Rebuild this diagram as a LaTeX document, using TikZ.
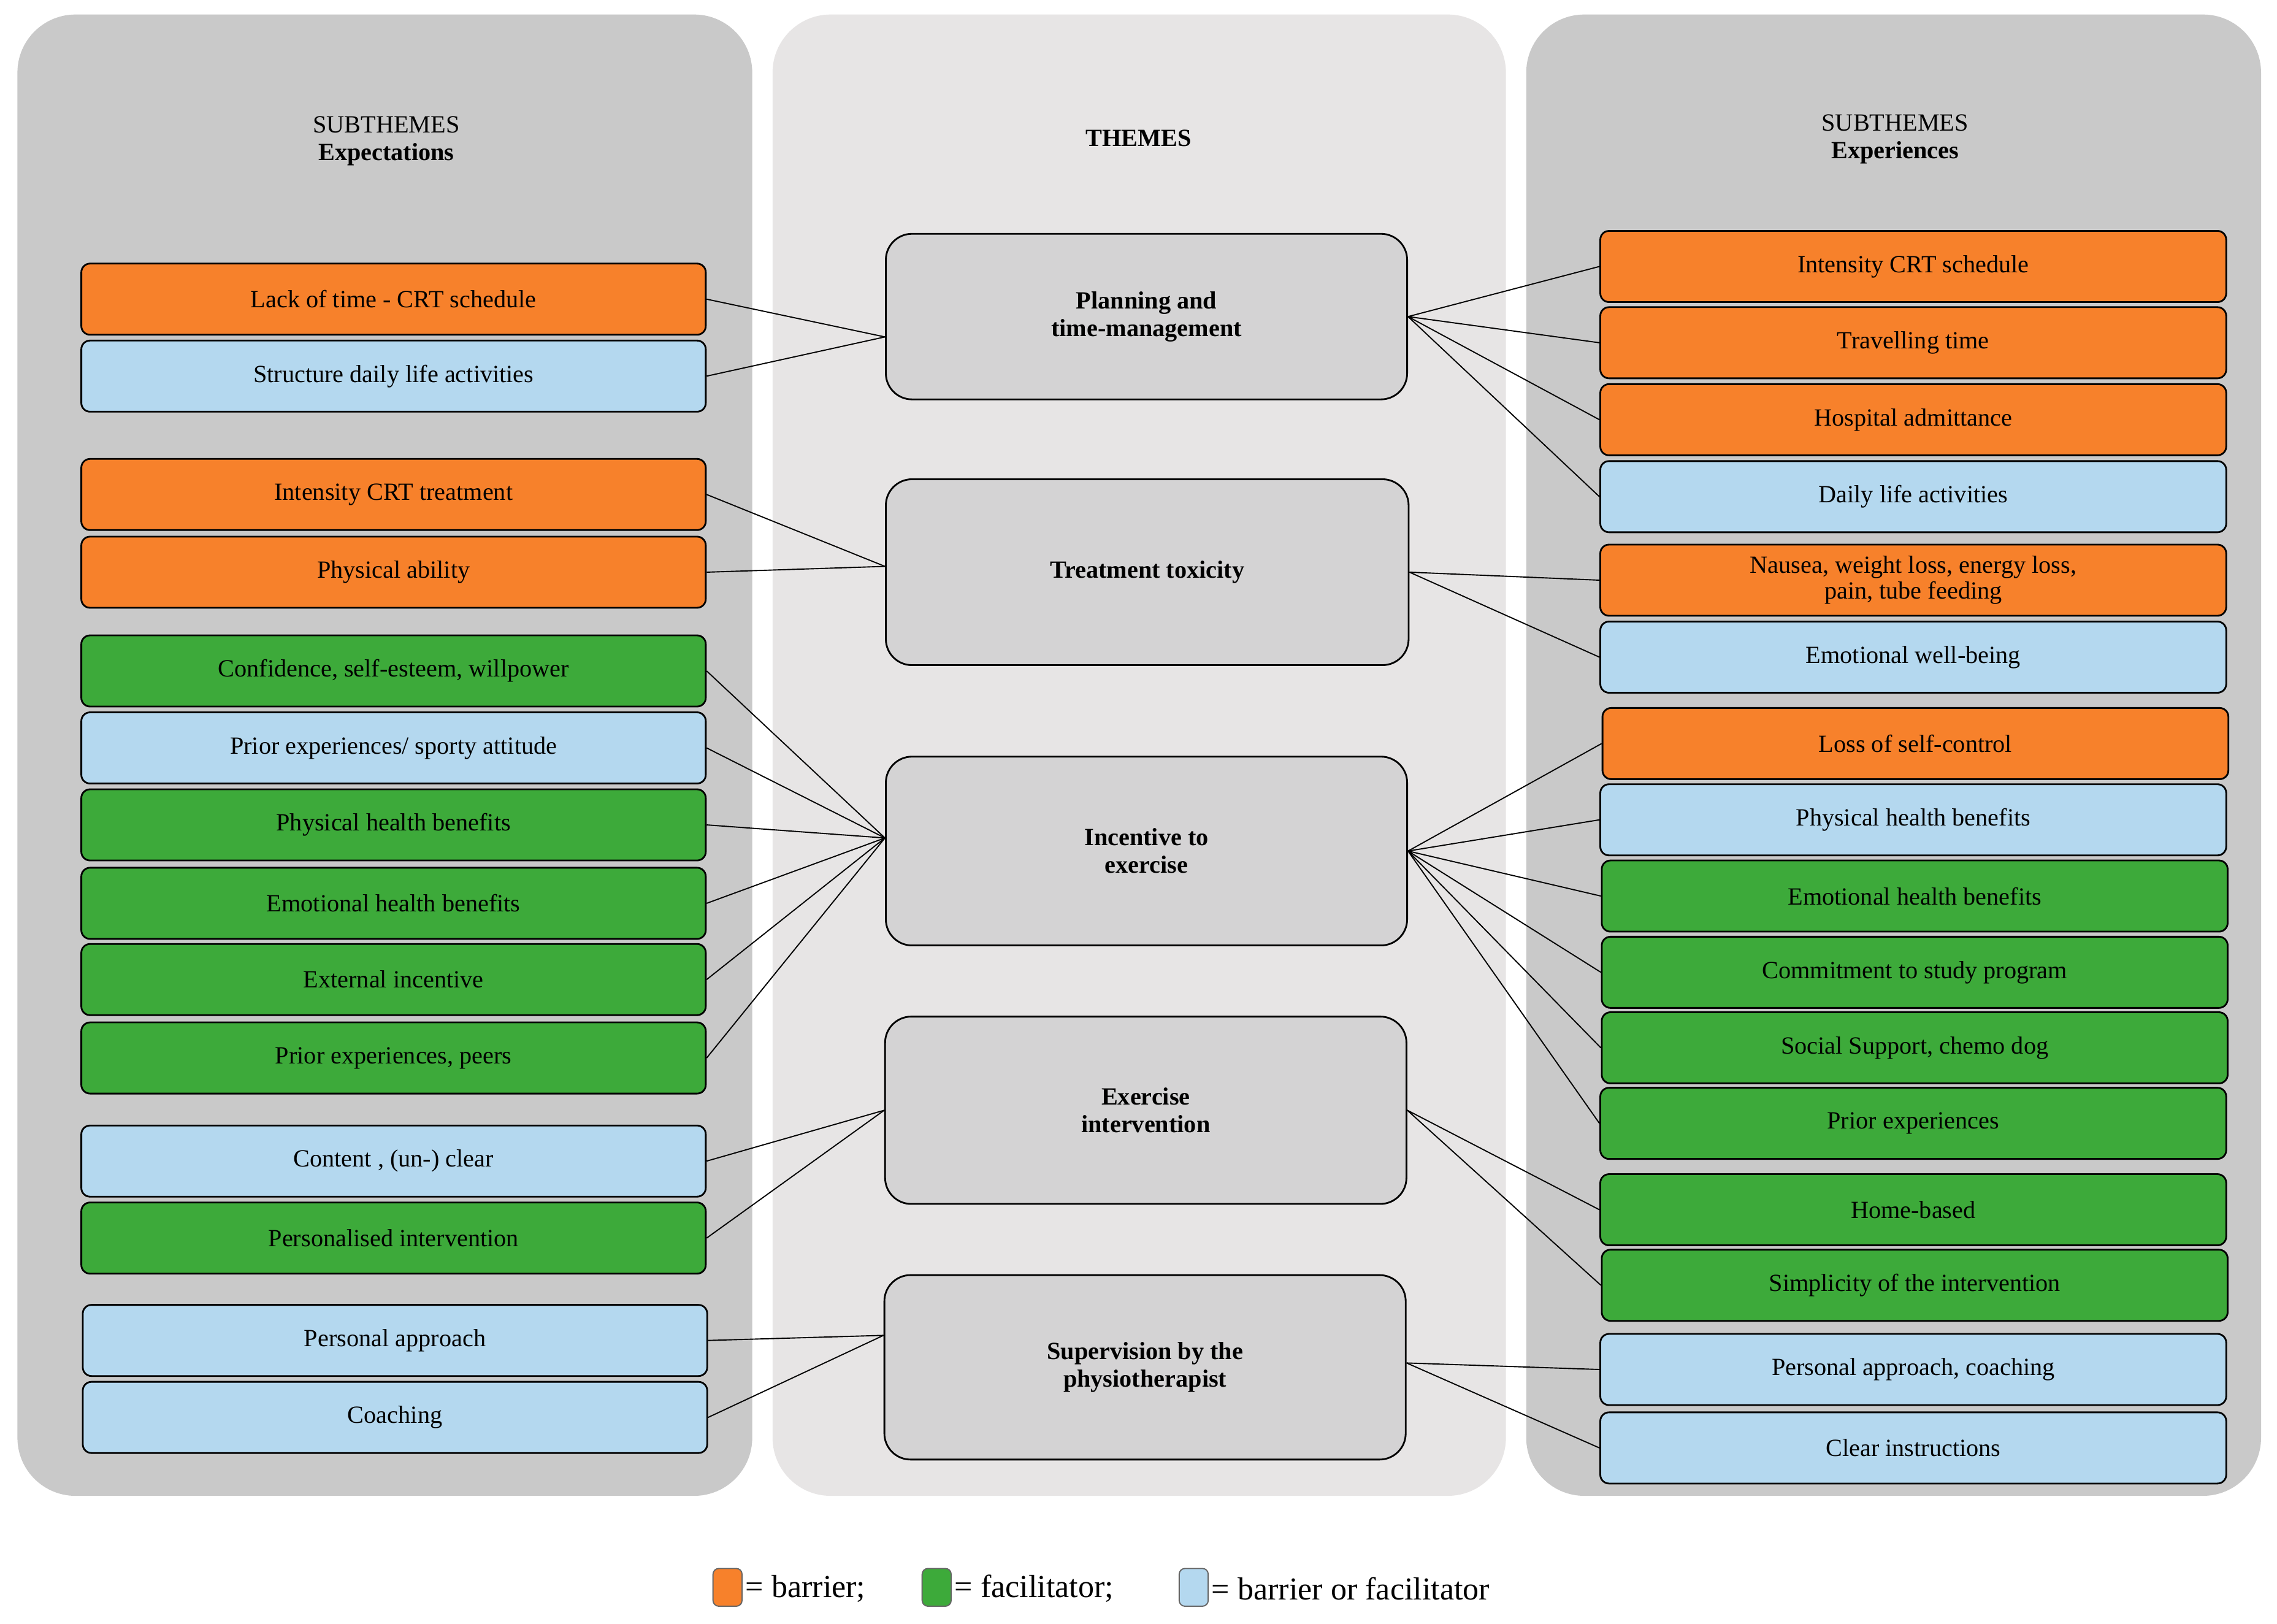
\documentclass[tikz,border=0pt]{standalone}
\usepackage{fontspec}
\setmainfont{Liberation Serif}
\begin{document}
\definecolor{cor}{HTML}{F7812B}
\definecolor{cgr}{HTML}{3DAA3A}
\definecolor{cbl}{HTML}{B4D8EF}
\definecolor{pside}{HTML}{C9C9C9}
\definecolor{pmid}{HTML}{E7E5E5}
\definecolor{ctheme}{HTML}{D4D3D4}
\begin{tikzpicture}[x=0.5pt,y=-0.5pt,
 panel/.style={rounded corners=20pt,draw=none},
 box/.style={draw=black,line width=0.6pt,rounded corners=3pt,minimum height=24.5pt,inner sep=1pt,font=\fontsize{8.5}{9}\selectfont,align=center},
 lb/.style={box,minimum width=215pt},
 rb/.style={box,minimum width=215.5pt},
 theme/.style={draw=black,line width=0.6pt,rounded corners=9pt,fill=ctheme,minimum width=179.5pt,font=\bfseries\fontsize{8.5}{9.5}\selectfont,align=center},
 hd/.style={font=\fontsize{8.5}{9.5}\selectfont,align=center},
 ln/.style={line width=0.4pt},
 legsq/.style={draw=black!60,line width=0.4pt,rounded corners=2pt,minimum width=10pt,minimum height=13pt,inner sep=0pt},
 legt/.style={font=\fontsize{11}{12}\selectfont,anchor=west,inner sep=1pt}]
\useasboundingbox (0,0) rectangle (1568,1118);
\fill[white] (0,0) rectangle (1568,1118);
\fill[pside,panel] (12,10) rectangle (518,1030);
\fill[pmid,panel] (532,10) rectangle (1037,1030);
\fill[pside,panel] (1051,10) rectangle (1557,1030);
\node[hd] (h1) at (266,97) {SUBTHEMES\\\textbf{Expectations}};
\node[hd] (h2) at (784,95) {\textbf{THEMES}};
\node[hd] (h3) at (1305,96) {SUBTHEMES\\\textbf{Experiences}};
% left
\node[lb,fill=cor] (L1) at (271,206) {Lack of time - CRT schedule};
\node[lb,fill=cbl] (L2) at (271,259) {Structure daily life activities};
\node[lb,fill=cor] (L3) at (271,340.5) {Intensity CRT treatment};
\node[lb,fill=cor] (L4) at (271,394) {Physical ability};
\node[lb,fill=cgr] (L5) at (271,462) {Confidence, self-esteem, willpower};
\node[lb,fill=cbl] (L6) at (271,515) {Prior experiences/ sporty attitude};
\node[lb,fill=cgr] (L7) at (271,568) {Physical health benefits};
\node[lb,fill=cgr] (L8) at (271,622) {Emotional health benefits};
\node[lb,fill=cgr] (L9) at (271,674.5) {External incentive};
\node[lb,fill=cgr] (L10) at (271,728.5) {Prior experiences, peers};
\node[lb,fill=cbl] (L11) at (271,799.5) {Content , (un-) clear};
\node[lb,fill=cgr] (L12) at (271,852.5) {Personalised intervention};
\node[lb,fill=cbl] (L13) at (272,923) {Personal approach};
\node[lb,fill=cbl] (L14) at (272,976) {Coaching};
% themes
\node[theme,minimum height=57pt] (T1) at (789.5,218) {Planning and\\time-management};
\node[theme,minimum height=64pt,minimum width=180pt] (T2) at (790,394) {Treatment toxicity};
\node[theme,minimum height=65pt] (T3) at (789.5,586) {Incentive to\\exercise};
\node[theme,minimum height=64.5pt] (T4) at (789,764.5) {Exercise\\intervention};
\node[theme,minimum height=63.5pt] (T5) at (788.5,941.5) {Supervision by the\\physiotherapist};
% right
\node[rb,fill=cor] (R1) at (1317.5,183.5) {Intensity CRT schedule};
\node[rb,fill=cor] (R2) at (1317.5,236) {Travelling time};
\node[rb,fill=cor] (R3) at (1317.5,289) {Hospital admittance};
\node[rb,fill=cbl] (R4) at (1317.5,342) {Daily life activities};
\node[rb,fill=cor] (R5) at (1317.5,399.5) {Nausea, weight loss, energy loss,\\pain, tube feeding};
\node[rb,fill=cbl] (R6) at (1317.5,452.5) {Emotional well-being};
\node[rb,fill=cor] (R7) at (1319,512) {Loss of self-control};
\node[rb,fill=cbl] (R8) at (1317.5,564.5) {Physical health benefits};
\node[rb,fill=cgr] (R9) at (1318.5,617) {Emotional health benefits};
\node[rb,fill=cgr] (R10) at (1318.5,669.5) {Commitment to study program};
\node[rb,fill=cgr] (R11) at (1318.5,721.5) {Social Support, chemo dog};
\node[rb,fill=cgr] (R12) at (1317.5,773.5) {Prior experiences};
\node[rb,fill=cgr] (R13) at (1317.5,833) {Home-based};
\node[rb,fill=cgr] (R14) at (1318.5,885) {Simplicity of the intervention};
\node[rb,fill=cbl] (R15) at (1317.5,943) {Personal approach, coaching};
\node[rb,fill=cbl] (R16) at (1317.5,997) {Clear instructions};
% connectors
\foreach \l in {L1,L2} \draw[ln] (\l.east) -- ([yshift=-7pt]T1.west);
\foreach \l in {L3,L4} \draw[ln] (\l.east) -- ([yshift=2pt]T2.west);
\foreach \l in {L5,L6,L7,L8,L9,L10} \draw[ln] (\l.east) -- ([yshift=4.5pt]T3.west);
\foreach \l in {L11,L12} \draw[ln] (\l.east) -- (T4.west);
\foreach \l in {L13,L14} \draw[ln] (\l.east) -- ([yshift=11pt]T5.west);
\foreach \r in {R1,R2,R3,R4} \draw[ln] (T1.east) -- (\r.west);
\foreach \r in {R5,R6} \draw[ln] (T2.east) -- (\r.west);
\foreach \r in {R7,R8,R9,R10,R11,R12} \draw[ln] (T3.east) -- (\r.west);
\foreach \r in {R13,R14} \draw[ln] (T4.east) -- (\r.west);
\foreach \r in {R15,R16} \draw[ln] ([yshift=1.5pt]T5.east) -- (\r.west);
% legend
\node[legsq,fill=cor] (k1) at (501,1093) {};
\node[legt] (t1) at (511,1094) {= barrier;};
\node[legsq,fill=cgr] (k2) at (645,1093) {};
\node[legt] (t2) at (655,1094) {= facilitator;};
\node[legsq,fill=cbl] (k3) at (822,1093) {};
\node[legt] (t3) at (832,1094) {= barrier or facilitator};
\end{tikzpicture}
\end{document}
